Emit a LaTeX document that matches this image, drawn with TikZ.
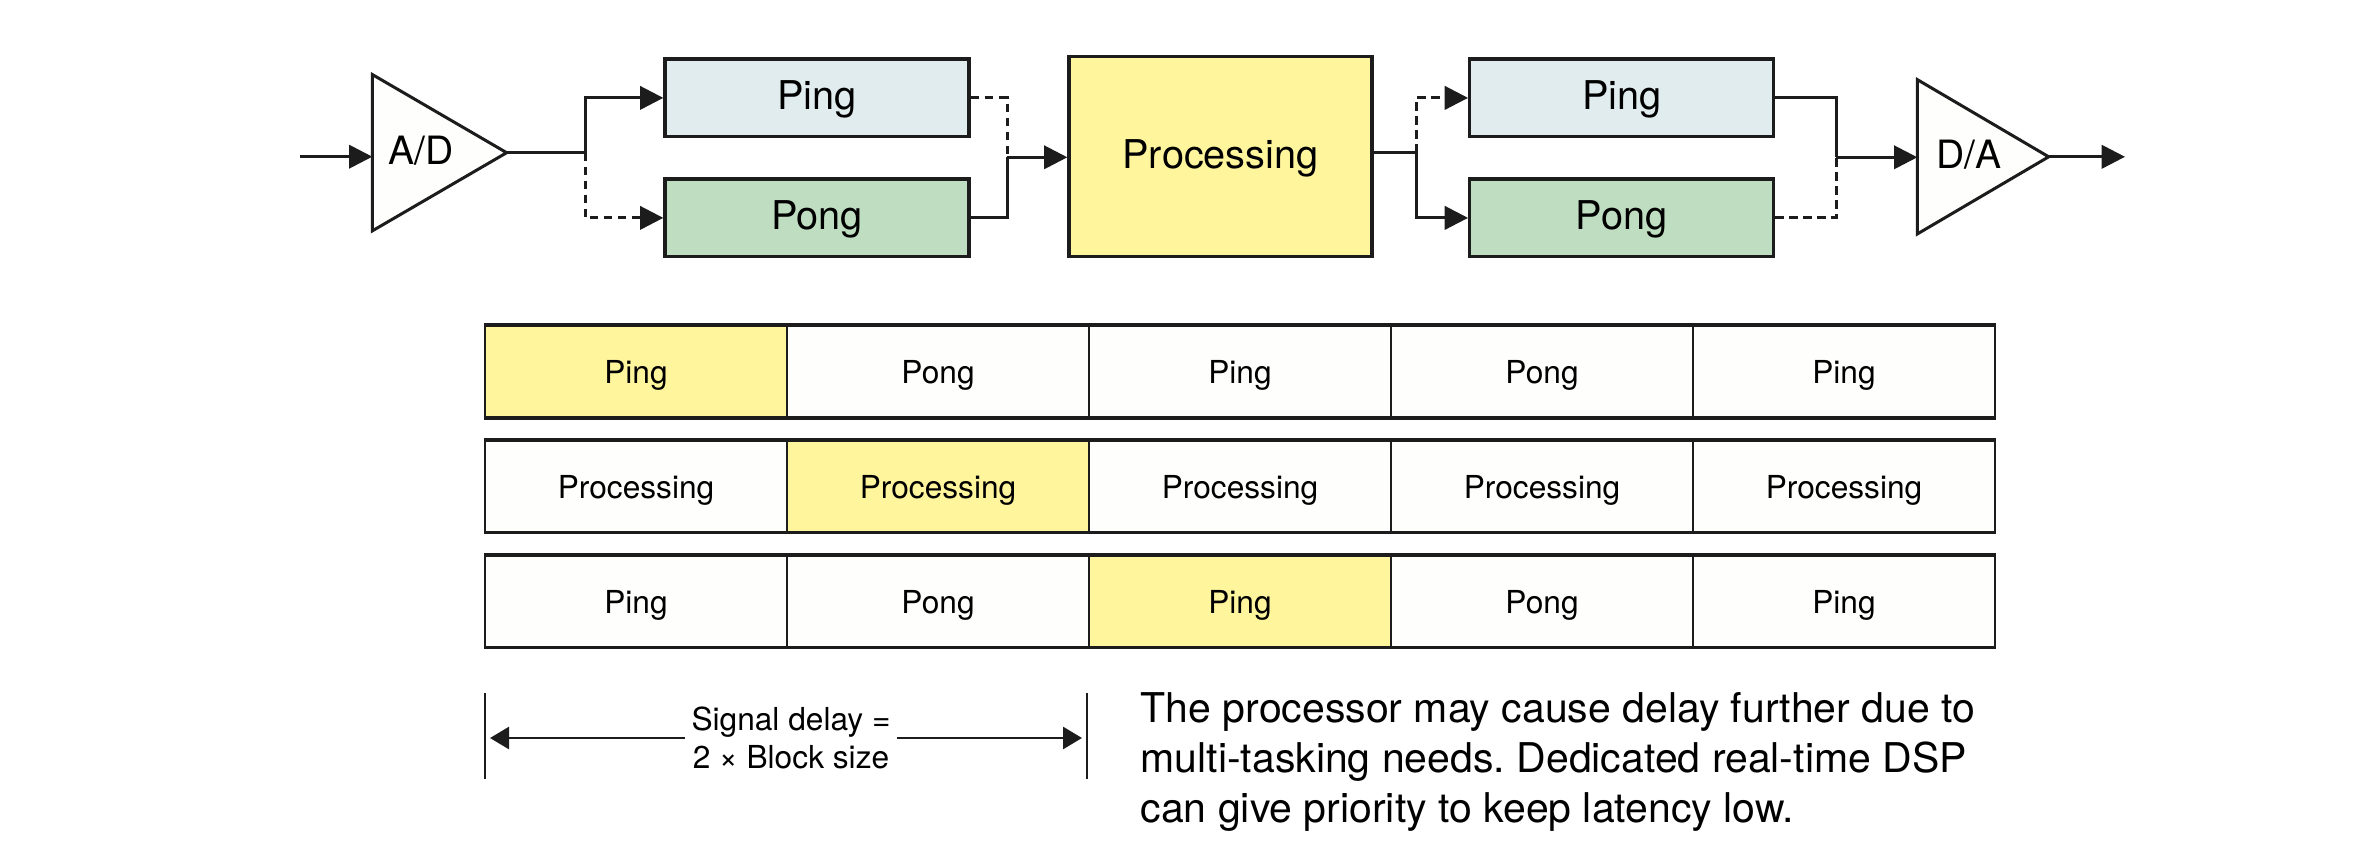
\documentclass[tikz,border=0pt]{standalone}
\usepackage{fontspec}
\setmainfont{TeX Gyre Heros}
\usetikzlibrary{arrows.meta,calc}
\frenchspacing
\definecolor{pingc}{RGB}{225,236,238}
\definecolor{pongc}{RGB}{191,222,193}
\definecolor{yel}{RGB}{255,245,157}
\definecolor{cellw}{RGB}{254,254,252}
\definecolor{linec}{RGB}{28,28,28}
\tikzset{
  conn/.style={draw=linec, line width=0.9pt},
  arr/.style={conn, -{Triangle[length=7pt,width=7pt]}},
  dsh/.style={dash pattern=on 2.6pt off 1.6pt},
  blk/.style={draw=linec, line width=1pt, inner sep=0pt, text height=0.72em, text depth=0pt, font=\fontsize{11.9}{14}\selectfont},
  pingbox/.style={blk, fill=pingc, minimum width=304*0.3pt, minimum height=77.7*0.3pt},
  pongbox/.style={blk, fill=pongc, minimum width=304*0.3pt, minimum height=77.7*0.3pt},
  procbox/.style={blk, fill=yel, minimum width=303*0.3pt, minimum height=200*0.3pt},
  ampnode/.style={inner sep=0pt, minimum width=#1},
  ampline/.style={draw=linec, line width=0.9pt, fill=cellw},
  amptext/.style={font=\fontsize{11.7}{14}\selectfont, inner sep=0pt, text height=0.72em, text depth=0pt},
  cell/.style={draw=linec, line width=0.6pt, fill=cellw, inner sep=0pt, minimum width=302*0.3pt, minimum height=91*0.3pt, text height=0.72em, text depth=0pt, font=\fontsize{9.5}{11}\selectfont},
  rowedge/.style={draw=linec, line width=1.1pt},
  dimline/.style={draw=linec, line width=0.7pt},
  dimarr/.style={draw=linec, line width=0.8pt, -{Triangle[length=5.7pt,width=6.6pt]}},
}
\begin{document}
\begin{tikzpicture}[x=0.3pt,y=-0.3pt]
\useasboundingbox (0,0) rectangle (2362,858);

% ---------- top signal chain ----------
\node[ampnode=133*0.3pt, minimum height=155*0.3pt] (ad) at (439.5,152.7) {};
\draw[ampline] (ad.north west) -- (ad.east) -- (ad.south west) -- cycle;
\node[amptext] (adt) at (421,152.7) {A/D};

\node[pingbox] (ping1) at (817,97.9) {Ping};
\node[pongbox] (pong1) at (817,217.9) {Pong};
\node[procbox] (proc) at (1220.5,156.7) {Processing};
\node[pingbox] (ping2) at (1621.7,97.9) {Ping};
\node[pongbox] (pong2) at (1621.7,217.9) {Pong};

\node[ampnode=130*0.3pt, minimum height=153*0.3pt] (da) at (1983,156.8) {};
\draw[ampline] (da.north west) -- (da.east) -- (da.south west) -- cycle;
\node[amptext] (dat) at (1969,156.8) {D/A};

\coordinate (in) at (300,156.7);
\coordinate (b1) at (585,152.7);
\coordinate (m1) at (1007,157.3);
\coordinate (b2) at (1416,152.7);
\coordinate (m2) at (1836,157.3);
\coordinate (out) at (2125,156.8);

\draw[arr] (in) -- (in -| ad.west);
\draw[conn] (ad.east) -- (b1);
\draw[arr] (b1) |- (ping1.west);
\draw[arr,dsh] (b1) |- (pong1.west);
\draw[conn,dsh] (ping1.east) -| (m1);
\draw[conn] (pong1.east) -| (m1);
\draw[arr] (m1) -- (m1 -| proc.west);
\draw[conn] (proc.east |- b2) -- (b2);
\draw[arr,dsh] (b2) |- (ping2.west);
\draw[arr] (b2) |- (pong2.west);
\draw[conn] (ping2.east) -| (m2);
\draw[conn,dsh] (pong2.east) -| (m2);
\draw[arr] (m2) -- (m2 -| da.west);
\draw[arr] (da.east) -- (out);

% ---------- timing table ----------
\foreach \r/\y/\hl/\txt in {1/371.5/1/{Ping,Pong,Ping,Pong,Ping},
                            2/486/2/{Processing,Processing,Processing,Processing,Processing},
                            3/601/3/{Ping,Pong,Ping,Pong,Ping}} {
  \foreach \t [count=\c] in \txt {
    \pgfmathsetmacro{\cx}{485+151+302*(\c-1)}
    \ifnum\c=\hl
      \node[cell, fill=yel] (r\r c\c) at (\cx,\y) {\t};
    \else
      \node[cell] (r\r c\c) at (\cx,\y) {\t};
    \fi
  }
  \draw[rowedge] (r\r c1.north west) -- (r\r c5.north east);
  \draw[rowedge] (r\r c1.south west) -- (r\r c5.south east);
}

% ---------- signal delay dimension ----------
\coordinate (d1t) at (485,693);
\coordinate (d1b) at (485,779);
\coordinate (d2t) at (1087,693);
\coordinate (d2b) at (1087,779);
\coordinate (dl) at (490,738);
\coordinate (dr) at (1082,738);
\draw[dimline] (d1t) -- (d1b);
\draw[dimline] (d2t) -- (d2b);
\node[align=center, inner xsep=1.8pt, inner ysep=0pt, font=\fontsize{9.5}{11.4}\selectfont] (sd) at (791,738) {Signal delay =\\2 × Block size};
\draw[dimarr] (sd.west |- dl) -- (dl);
\draw[dimarr] (sd.east |- dr) -- (dr);

% ---------- note ----------
\node[align=left, anchor=base west, inner sep=0pt, font=\fontsize{12.3}{15}\selectfont] (note) at (1140,822.7)
  {The processor may cause delay further due to\\multi-tasking needs. Dedicated real-time DSP\\can give priority to keep latency low.};
\end{tikzpicture}
\end{document}
